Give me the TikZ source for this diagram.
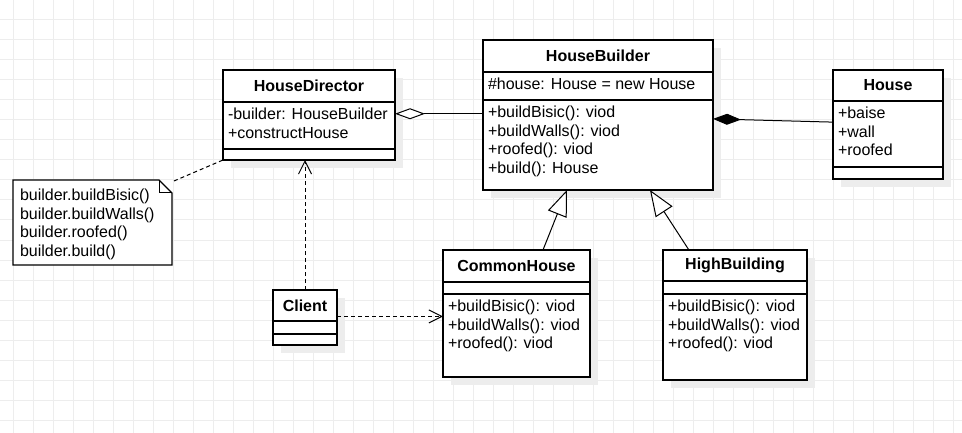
\documentclass[tikz,border=0pt]{standalone}
\usepackage{fontspec}
\setmainfont{Liberation Sans}
\usetikzlibrary{arrows.meta,positioning,shadows,calc}

\begin{document}
\begin{tikzpicture}[x=1pt,y=-1pt,
    every node/.style={font=\fontsize{16}{18.7}\selectfont,outer sep=0pt},
    gridline/.style={draw=black!7,line width=1pt},
    cls/.style={draw,fill=white,line width=1.2pt,inner sep=0pt,
        drop shadow={shadow xshift=8pt,shadow yshift=-8pt,fill=black!7,opacity=1}},
    head/.style={cls,anchor=north west,font=\fontsize{16}{18.7}\selectfont\bfseries},
    part/.style={cls},
    mem/.style={anchor=north west,inner sep=0pt,align=left},
    notebox/.style={anchor=north west,inner sep=0pt,minimum width=159pt,minimum height=85pt},
    link/.style={line width=1pt},
    dashlink/.style={link,dash pattern=on 4pt off 3pt},
    dep/.style={dashlink,-{Straight Barb[length=13pt,width=13pt]}},
    gen/.style={link,-{Triangle[length=26pt,width=20pt,fill=white]}},
    agg/.style={link,{Diamond[length=30pt,width=11pt,fill=white]}-},
    comp/.style={link,{Diamond[length=28pt,width=11pt]}-}]

  \useasboundingbox (0,0) rectangle (962,433);
  \fill[white] (0,0) rectangle (962,433);
  \foreach \x in {13.3,33.3,...,953.3}
    \draw[gridline] (\x,0) -- (\x,433);
  \foreach \y in {20,40,...,420}
    \draw[gridline] (0,\y) -- (962,\y);

  \node[head,minimum width=172pt,minimum height=32pt] (HD) at (223,70) {HouseDirector};
  \node[part,minimum width=172pt,minimum height=47pt,below=0pt of HD] (HD-a) {};
  \node[part,minimum width=172pt,minimum height=11pt,below=0pt of HD-a] (HD-m) {};
  \node[mem] (HD-at) at ([shift={(5,6)}]HD-a.north west) {-builder: HouseBuilder\\+constructHouse};

  \node[head,minimum width=230pt,minimum height=32pt] (HB) at (483,40) {HouseBuilder};
  \node[part,minimum width=230pt,minimum height=28pt,below=0pt of HB] (HB-a) {};
  \node[part,minimum width=230pt,minimum height=90pt,below=0pt of HB-a] (HB-m) {};
  \node[mem] (HB-at) at ([shift={(5,6)}]HB-a.north west) {\#house: House = new House};
  \node[mem] (HB-mt) at ([shift={(5,6)}]HB-m.north west) {+buildBisic(): viod\\+buildWalls(): viod\\+roofed(): viod\\+build(): House};

  \node[head,minimum width=110pt,minimum height=31pt] (Ho) at (833,70) {House};
  \node[part,minimum width=110pt,minimum height=66pt,below=0pt of Ho] (Ho-a) {};
  \node[part,minimum width=110pt,minimum height=12pt,below=0pt of Ho-a] (Ho-m) {};
  \node[mem] (Ho-at) at ([shift={(5,6)}]Ho-a.north west) {+baise\\+wall\\+roofed};

  \node[head,minimum width=147pt,minimum height=32pt] (CH) at (443,250) {CommonHouse};
  \node[part,minimum width=147pt,minimum height=12pt,below=0pt of CH] (CH-a) {};
  \node[part,minimum width=147pt,minimum height=83pt,below=0pt of CH-a] (CH-m) {};
  \node[mem] (CH-mt) at ([shift={(5,6)}]CH-m.north west) {+buildBisic(): viod\\+buildWalls(): viod\\+roofed(): viod};

  \node[head,minimum width=144pt,minimum height=31pt] (HiB) at (663,250) {HighBuilding};
  \node[part,minimum width=144pt,minimum height=13pt,below=0pt of HiB] (HiB-a) {};
  \node[part,minimum width=144pt,minimum height=86pt,below=0pt of HiB-a] (HiB-m) {};
  \node[mem] (HiB-mt) at ([shift={(5,6)}]HiB-m.north west) {+buildBisic(): viod\\+buildWalls(): viod\\+roofed(): viod};

  \node[head,minimum width=64pt,minimum height=31pt] (Cl) at (273,290) {Client};
  \node[part,minimum width=64pt,minimum height=13pt,below=0pt of Cl] (Cl-a) {};
  \node[part,minimum width=64pt,minimum height=11pt,below=0pt of Cl-a] (Cl-m) {};

  \node[notebox] (No) at (13,180) {};
  \fill[white] (No.north west) -- ([xshift=-13pt]No.north east) -- ([yshift=-13pt]No.north east)
    -- (No.south east) -- (No.south west) -- cycle;
  \draw[line width=1.2pt] (No.north west) -- ([xshift=-13pt]No.north east) -- ([yshift=-13pt]No.north east)
    -- (No.south east) -- (No.south west) -- cycle;
  \draw[line width=1pt] ([xshift=-13pt]No.north east) |- ([yshift=-13pt]No.north east);
  \node[mem] (No-t) at ([shift={(7,9)}]No.north west) {builder.buildBisic()\\builder.buildWalls()\\builder.roofed()\\builder.build()};

  \coordinate (ag) at ($(HD-a.north east)!.25!(HD-a.south east)$);
  \coordinate (dp) at ($(CH-m.north west)!.27!(CH-m.south west)$);

  \draw[agg] (ag) -- (ag -| HB-m.west);
  \draw[comp] ($(HB-m.north east)!.21!(HB-m.south east)$) -- ($(Ho-a.north west)!.32!(Ho-a.south west)$);
  \draw[gen] ($(CH.north west)!.68!(CH.north east)$) -- ($(HB-m.south west)!.365!(HB-m.south east)$);
  \draw[gen] ($(HiB.north west)!.18!(HiB.north east)$) -- ($(HB-m.south west)!.726!(HB-m.south east)$);
  \draw[dep] (dp -| Cl.east) -- (dp);
  \draw[dep] (Cl.north) -- (Cl.north |- HD-m.south);
  \draw[dashlink] ([shift={(2,1)}]No.north east) -- (HD-m.south west);

\end{tikzpicture}
\end{document}
